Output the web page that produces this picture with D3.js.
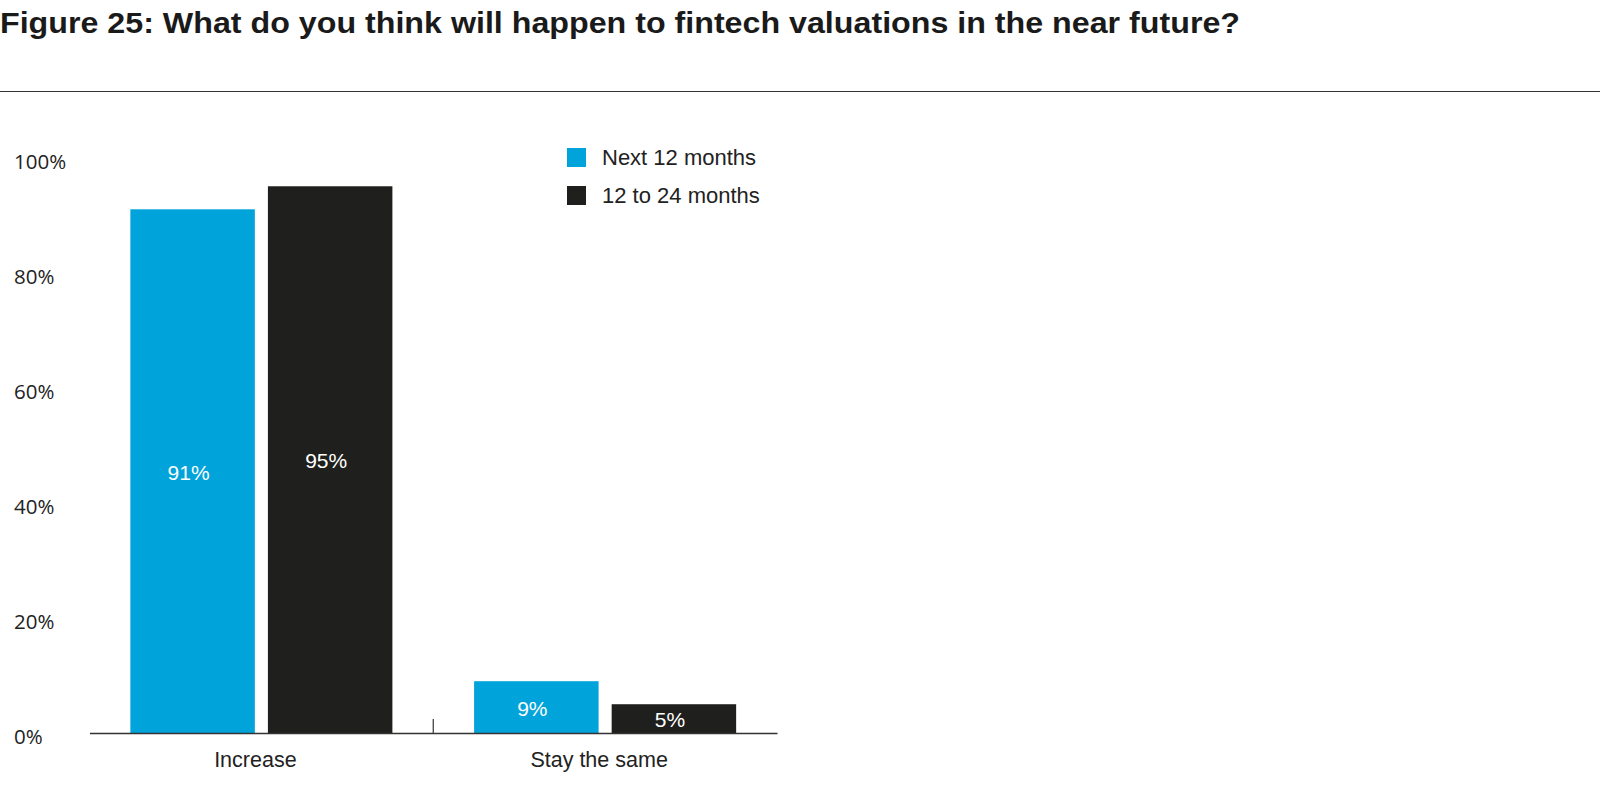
<!DOCTYPE html>
<html>
<head>
<meta charset="utf-8">
<script src="https://cdn.jsdelivr.net/npm/d3@7"></script>
<style>
  body { margin: 0; background: #fff; }
  svg text { font-family: "Liberation Sans", Arial, sans-serif; }
</style>
</head>
<body>
<svg id="chart"></svg>
<script>
'use strict';

// data
var categories = ['Increase', 'Stay the same'];
var seriesNames = ['Next 12 months', '12 to 24 months'];
var next12 = [91, 9];
var to24 = [95, 5];
var yTicks = [0, 20, 40, 60, 80, 100];
var colors = ['#00a3da', '#1f1f1d'];
var title = 'Figure 25: What do you think will happen to fintech valuations in the near future?';

var W = 1600, H = 786;

var svg = d3.select('#chart').attr('width', W).attr('height', H);

// title + rule
svg.append('text')
  .attr('x', 0).attr('y', 33)
  .attr('font-size', 29).attr('font-weight', 'bold')
  .attr('fill', '#1a1a1a')
  .attr('textLength', 1240).attr('lengthAdjust', 'spacingAndGlyphs')
  .text(title);

svg.append('line')
  .attr('x1', 0).attr('x2', W).attr('y1', 91.5).attr('y2', 91.5)
  .attr('stroke', '#333').attr('stroke-width', 1.2);

// scales
var x0 = d3.scaleBand().domain(categories).range([89.5, 777]).padding(0);
var x1 = d3.scaleBand().domain(seriesNames).range([0, x0.bandwidth()])
  .paddingInner(0.095).paddingOuter(0.297);
var y = d3.scaleLinear().domain([0, 100]).range([733, 157.5]);

var rows = categories.map(function(c, i){
  return { cat: c, vals: [ { s: seriesNames[0], v: next12[i], c: 0 }, { s: seriesNames[1], v: to24[i], c: 1 } ] };
});

// y axis labels
var yAxis = svg.append('g')
  .attr('transform', 'translate(14,4)')
  .call(d3.axisLeft(y).tickValues(yTicks).tickSize(0).tickPadding(0)
    .tickFormat(function(d){ return d + '%'; }));
yAxis.select('.domain').remove();
yAxis.selectAll('text')
  .attr('text-anchor', 'start')
  .attr('font-size', 20.5)
  .attr('fill', '#222')
  .style('font-family', '"Open Sans", "Liberation Sans", sans-serif');

// bars
var groups = svg.selectAll('.grp').data(rows).enter().append('g')
  .attr('transform', function(d){ return 'translate(' + x0(d.cat) + ',0)'; });

groups.selectAll('rect').data(function(d){ return d.vals; }).enter().append('rect')
  .attr('x', function(d){ return x1(d.s); })
  .attr('width', x1.bandwidth())
  .attr('y', function(d){ return y(d.v); })
  .attr('height', function(d){ return y(0) - y(d.v); })
  .attr('fill', function(d){ return colors[d.c]; });

groups.selectAll('.lbl').data(function(d){ return d.vals; }).enter().append('text')
  .attr('class', 'lbl')
  .attr('x', function(d){ return x1(d.s) + x1.bandwidth() / 2 - 4; })
  .attr('y', function(d){ return (y(d.v) + y(0)) / 2; })
  .attr('dy', '0.4em')
  .attr('text-anchor', 'middle')
  .attr('font-size', 21)
  .attr('fill', '#fff')
  .text(function(d){ return d.v + '%'; });

// x axis
var xAxis = svg.append('g')
  .attr('transform', 'translate(0,' + y(0) + ')')
  .call(d3.axisBottom(x0).tickSize(0).tickSizeOuter(0).tickPadding(19));
xAxis.select('.domain').attr('stroke', '#333').attr('stroke-width', 1.5);
xAxis.selectAll('text')
  .attr('font-size', 21.5)
  .attr('fill', '#222')
  .attr('dx', -6);

// separator tick between groups
svg.append('line')
  .attr('x1', x0(categories[1])).attr('x2', x0(categories[1]))
  .attr('y1', y(0) - 14).attr('y2', y(0))
  .attr('stroke', '#333').attr('stroke-width', 1.2);

// legend
var legend = svg.append('g').attr('transform', 'translate(567,148)');
seriesNames.forEach(function(s, i){
  var g = legend.append('g').attr('transform', 'translate(0,' + (i * 38) + ')');
  g.append('rect').attr('width', 19).attr('height', 19).attr('fill', colors[i]);
  g.append('text')
    .attr('x', 35).attr('y', 9.5).attr('dy', '0.35em')
    .attr('font-size', 22).attr('fill', '#222')
    .text(s);
});
</script>
</body>
</html>
